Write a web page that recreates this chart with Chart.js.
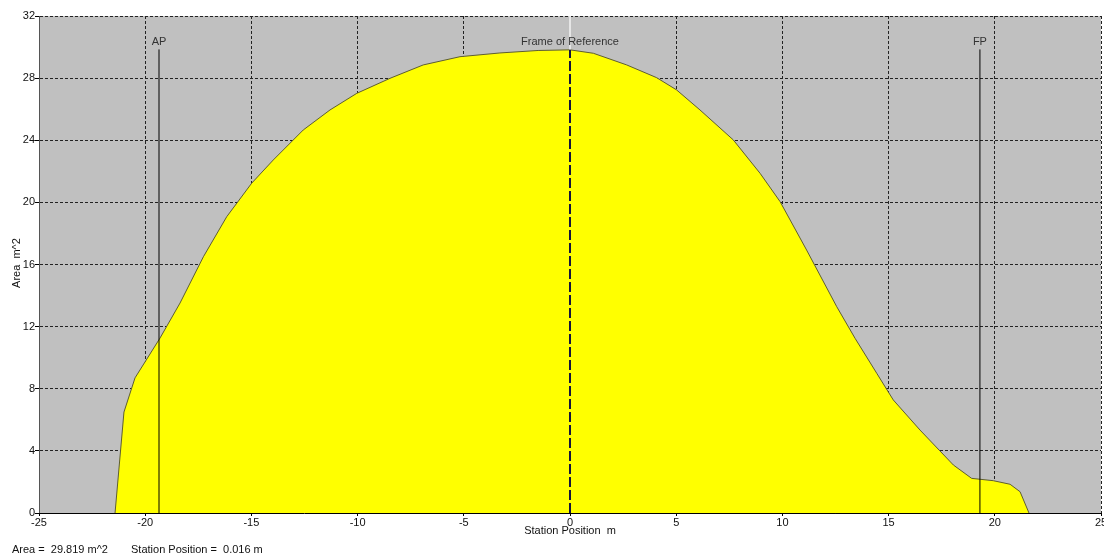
<!DOCTYPE html>
<html>
<head>
<meta charset="utf-8">
<script src="https://cdn.jsdelivr.net/npm/chart.js@4/dist/chart.umd.min.js"></script>
<style>
  html, body { margin: 0; padding: 0; background: #fff; }
  canvas { display: block; }
</style>
</head>
<body>
<canvas id="areaChart" width="1104" height="559"></canvas>
<script>
// section area curve (station m, area m^2)
const stations = [-21.42, -21.0, -20.48, -19.3, -18.36, -17.26, -16.16, -14.99, -13.97, -12.56,
  -11.3, -10.04, -8.47, -6.91, -5.18, -3.3, -1.5, 0, 1.1, 2.67, 4.08, 5.02, 6.12, 7.69, 8.95,
  9.89, 11.14, 12.56, 13.42, 14.44, 15.22, 16.48, 18.05, 18.91, 19.93, 20.72, 21.19, 21.61];
const areas = [0, 6.5, 8.7, 11.27, 13.52, 16.5, 19.08, 21.23, 22.73, 24.66,
  25.95, 27.02, 27.99, 28.85, 29.38, 29.62, 29.78, 29.82, 29.6, 28.85, 28.03, 27.24, 25.95, 24.02, 21.87,
  20.05, 16.93, 13.28, 11.25, 9.0, 7.28, 5.34, 3.09, 2.23, 2.08, 1.85, 1.37, 0];

// vertical markers
const markerNames = ["AP", "Frame of Reference", "FP"];
const markerStations = [-19.35, 0, 19.3];
const markerTop = 29.85;

// axes
const xMin = -25, xMax = 25, xStep = 5;
const yMin = 0, yMax = 32, yStep = 4;
const xTitle = "Station Position  m";
const yTitle = "Area  m^2";

// cursor read-out
const readArea = 29.819;
const readStation = 0.016;

const FONT = '"Liberation Sans", Arial, sans-serif';

const kurve = stations.map((s, i) => ({ x: s, y: areas[i] }));

// markers get order 0 so they are drawn over the yellow fill
const markerSets = markerStations.map((s, i) => {
  const frame = markerNames[i] === "Frame of Reference";
  return {
    data: [{ x: s, y: 0 }, { x: s, y: markerTop }],
    showLine: true,
    borderColor: frame ? "#14143c" : "#000",
    borderWidth: frame ? 2 : 1,
    borderDash: frame ? [10, 3] : [],
    pointRadius: 0,
    fill: false,
    order: 0
  };
});

// light line above the frame of reference
const frameUpper = {
  data: [{ x: markerStations[1], y: markerTop }, { x: markerStations[1], y: yMax }],
  showLine: true,
  borderColor: "#e6e6e6",
  borderWidth: 2,
  pointRadius: 0,
  fill: false,
  order: 0
};

const plotBackground = {
  id: "plotBackground",
  beforeDraw(chart) {
    const { ctx, chartArea: a } = chart;
    ctx.save();
    ctx.fillStyle = "#c0c0c0";
    ctx.fillRect(a.left, a.top, a.width, a.height);
    ctx.restore();
  }
};

const beschriftung = {
  id: "beschriftung",
  afterDatasetsDraw(chart) {
    const { ctx, chartArea: a, scales: { x, y } } = chart;
    ctx.save();
    // x axis line on top of the fill
    ctx.strokeStyle = "#000";
    ctx.lineWidth = 1;
    ctx.beginPath();
    ctx.moveTo(a.left, Math.round(a.bottom) + 0.5);
    ctx.lineTo(a.right, Math.round(a.bottom) + 0.5);
    ctx.stroke();

    ctx.font = "11px " + FONT;
    ctx.fillStyle = "#333";
    ctx.textAlign = "center";
    ctx.textBaseline = "middle";
    markerNames.forEach((n, i) => {
      ctx.fillText(n, x.getPixelForValue(markerStations[i]), y.getPixelForValue(30.35));
    });
    ctx.restore();
  },
  afterDraw(chart) {
    const { ctx, chartArea: a } = chart;
    ctx.save();
    ctx.font = "11px " + FONT;
    ctx.fillStyle = "#111";
    ctx.textBaseline = "middle";
    ctx.textAlign = "center";
    ctx.fillText(xTitle, (a.left + a.right) / 2, 531);

    ctx.save();
    ctx.translate(17, 263);
    ctx.rotate(-Math.PI / 2);
    ctx.fillText(yTitle, 0, 0);
    ctx.restore();

    ctx.textAlign = "left";
    ctx.fillText("Area =  " + readArea.toFixed(3) + " m^2", 12, 550);
    ctx.fillText("Station Position =  " + readStation.toFixed(3) + " m", 131, 550);
    ctx.restore();
  }
};

new Chart(document.getElementById("areaChart"), {
  type: "scatter",
  data: {
    datasets: [
      {
        data: kurve,
        showLine: true,
        borderColor: "#5e5e30",
        borderWidth: 1,
        backgroundColor: "#ffff00",
        fill: "origin",
        pointRadius: 0,
        tension: 0,
        order: 1
      },
      frameUpper,
      ...markerSets
    ]
  },
  options: {
    responsive: false,
    animation: false,
    layout: { padding: { top: 16, right: 3, left: 0, bottom: 0 } },
    plugins: {
      legend: { display: false },
      tooltip: { enabled: false }
    },
    scales: {
      x: {
        type: "linear",
        min: xMin,
        max: xMax,
        afterFit(scale) {
          scale.height = 46;
          scale.paddingLeft = 0;
          scale.paddingRight = 0;
        },
        ticks: {
          stepSize: xStep,
          padding: 0,
          maxRotation: 0,
          color: "#111",
          font: { family: FONT, size: 11 }
        },
        grid: {
          color: "#222",
          lineWidth: 1,
          tickLength: 3,
          tickColor: "#000"
        },
        border: { display: false, dash: [3, 2] }
      },
      y: {
        min: yMin,
        max: yMax,
        afterFit(scale) {
          scale.width = 39;
        },
        ticks: {
          stepSize: yStep,
          padding: 0,
          color: "#111",
          font: { family: FONT, size: 11 }
        },
        grid: {
          color: "#222",
          lineWidth: 1,
          tickLength: 4,
          tickColor: "#000"
        },
        border: { color: "#555", width: 1, dash: [3, 2] }
      }
    }
  },
  plugins: [plotBackground, beschriftung]
});
</script>
</body>
</html>
